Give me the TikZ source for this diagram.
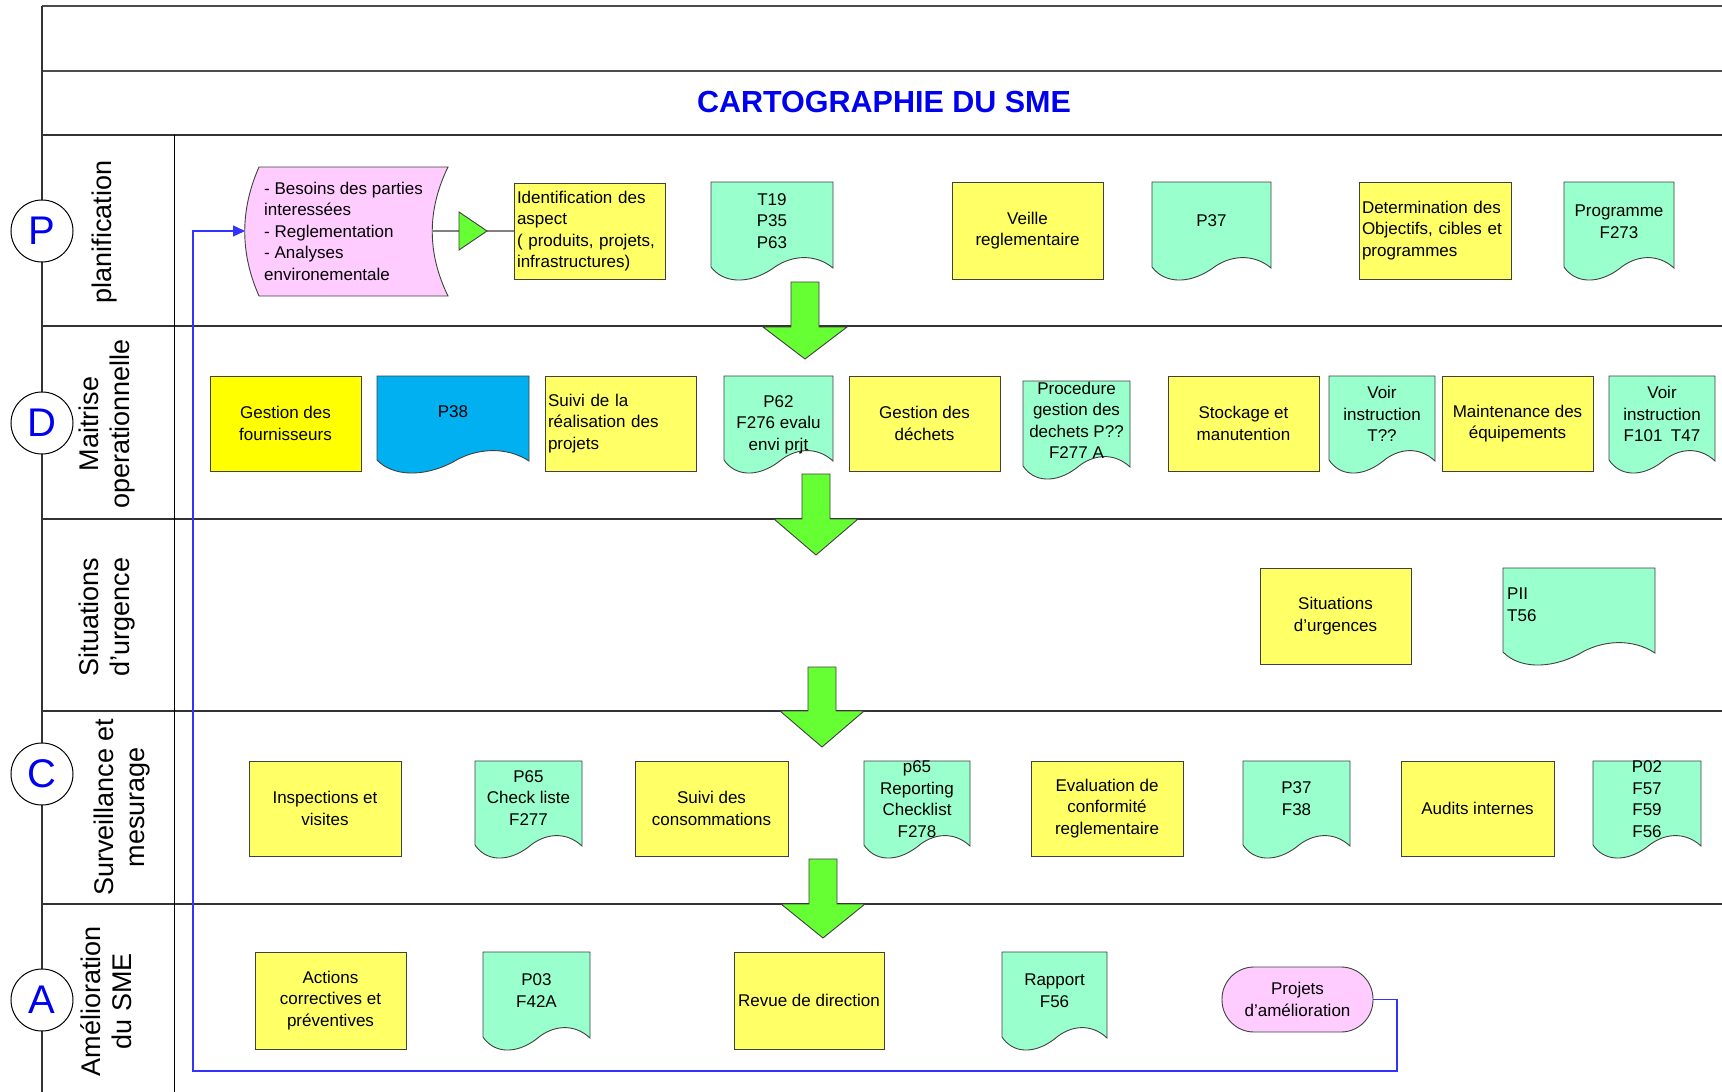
\documentclass[tikz,border=0pt]{standalone}
\usepackage{fontspec}
\setmainfont{Liberation Sans}
\usetikzlibrary{arrows.meta}

\definecolor{yel}{HTML}{FFFF66}
\definecolor{pureyel}{HTML}{FFFF00}
\definecolor{mint}{HTML}{99FFCC}
\definecolor{docblue}{HTML}{00B0F0}
\definecolor{pinkfill}{HTML}{FFCCFF}
\definecolor{arrowgreen}{HTML}{66FF33}
\definecolor{titleblue}{HTML}{0000F0}
\definecolor{linkblue}{HTML}{3333FF}
\definecolor{framegray}{HTML}{333333}

\newcommand\boxfont{\fontsize{17}{21.5}\selectfont}
\newcommand\lanefont{\fontsize{27}{30.5}\selectfont}
\newcommand\circfont{\fontsize{40}{40}\selectfont}
\newcommand\titlefont{\fontsize{30.5}{32}\selectfont\bfseries}

% document symbol: flat top, wavy bottom (x1,y1,x2,y2,fill)
\newcommand\docshape[5]{%
  \filldraw[boxline, fill=#5] (#1,#2) -- (#3,#2) -- (#3,{#4-11})
    .. controls ({#1+0.85*(#3-#1)},{#4-26}) and ({#1+0.65*(#3-#1)},{#4-24}) .. ({#1+0.5*(#3-#1)},{#4-10})
    .. controls ({#1+0.3*(#3-#1)},{#4+6}) and ({#1+0.1*(#3-#1)},{#4+4}) .. (#1,{#4-12}) -- cycle;}
% document symbol with centred text (name,x1,y1,x2,y2,fill,text y,text)
\newcommand\docnode[8]{%
  \docshape{#2}{#3}{#4}{#5}{#6}
  \node[doctext] (#1) at ({(#2+#4)/2},#7) {#8};}
% block arrow pointing down (centre x, top, head base, tip)
\newcommand\lanearrow[4]{%
  \filldraw[flowarrow] ({#1-14},#2) -- ({#1+14},#2) -- ({#1+14},#3) -- ({#1+42},#3)
    -- (#1,#4) -- ({#1-42},#3) -- ({#1-14},#3) -- cycle;}

\begin{document}
\begin{tikzpicture}[x=1pt,y=-1pt,
  frameline/.style={draw=framegray, line width=1.8pt},
  thinline/.style={draw=black, line width=1pt},
  boxline/.style={draw=black!75, line width=0.9pt},
  proc/.style={rectangle, boxline, inner sep=0pt, font=\boxfont, align=center},
  procleft/.style={proc, align=left, inner xsep=3pt},
  doctext/.style={inner sep=0pt, font=\boxfont, align=center},
  lanelabel/.style={rotate=90, font=\lanefont, align=center, inner sep=0pt},
  stepcircle/.style={circle, draw=black, line width=1pt, fill=white,
    minimum size=62pt, inner sep=0pt, font=\circfont, text=titleblue},
  flowarrow/.style={fill=arrowgreen, draw=black!75, line width=0.9pt},
  grayline/.style={draw=gray, line width=1.5pt},
  fbline/.style={draw=linkblue, line width=1.2pt, -{Triangle[length=12pt,width=11pt]}}]

\useasboundingbox (0,0) rectangle (1722,1092);
\fill[white] (0,0) rectangle (1722,1092);

% ---------- frame and swimlanes ----------
\draw[frameline, draw=black!70] (42,6) -- (1722,6);
\draw[frameline, draw=black!70] (42,71) -- (1722,71);
\foreach \yy in {135,326,519,711,904}
  \draw[frameline] (42,\yy) -- (1722,\yy);
\draw[frameline] (42,6) -- (42,1092);
\draw[thinline] (174,135) -- (174,1092);

\node[font=\titlefont, text=titleblue] (title) at (884,102) {CARTOGRAPHIE DU SME};

% lane titles
\node[lanelabel] (lanePlan) at (105,232) {planification};
\node[lanelabel] (laneDo) at (107,424) {Maitrise\\operationnelle};
\node[lanelabel] (laneUrg) at (107,617) {Situations\\d’urgence};
\node[lanelabel] (laneCheck) at (122,807) {Surveillance et\\mesurage};
\node[lanelabel] (laneAct) at (106,1001) {Amélioration\\du SME};

% PDCA markers
\node[stepcircle] (cP) at (42,231) {P};
\node[stepcircle] (cD) at (42,423) {D};
\node[stepcircle] (cC) at (42,774) {C};
\node[stepcircle] (cA) at (42,1000) {A};

% ---------- planification ----------
\filldraw[boxline, fill=pinkfill] (259,167) -- (448,167)
  .. controls (427,210) and (427,253) .. (448,296) -- (259,296)
  .. controls (240,253) and (240,210) .. (259,167) -- cycle;
\coordinate (besoinsL) at (245,231);
\coordinate (besoinsR) at (432,231);
\node[doctext, align=left, anchor=west] (besoins) at (264,231)
  {- Besoins des parties\\interessées\\- Reglementation\\- Analyses\\environementale};

\coordinate (triL) at (459,231);
\coordinate (triR) at (487,231);
\node[proc, fill=yel, procleft, minimum height=96pt, text width=145pt] (ident) at (589.5,231)
  {Identification des\\aspect\\( produits, projets,\\infrastructures)};
\draw[grayline] (besoinsR) -- (triL);
\draw[grayline] (triR) -- (ident.west);
\filldraw[boxline, fill=arrowgreen] (459,212) -- (triR) -- (459,250) -- cycle;

\docnode{t19}{711}{182}{833}{279}{mint}{221}{T19\\P35\\P63}
\node[proc, fill=yel, minimum width=151pt, minimum height=97pt] (veille) at (1027.5,230.5) {Veille\\reglementaire};
\docnode{p37a}{1152}{182}{1271}{279}{mint}{221}{P37}
\node[procleft, fill=yel, minimum height=97pt, text width=146pt] (determ) at (1435,230.5)
  {Determination des\\Objectifs, cibles et\\programmes};
\docnode{prog}{1564}{182}{1674}{279}{mint}{221.5}{Programme\\F273}

% ---------- maitrise operationnelle ----------
\node[proc, fill=pureyel, minimum width=151pt, minimum height=95pt] (gestf) at (285.5,423.5) {Gestion des\\fournisseurs};
\docnode{p38}{377}{376}{529}{472}{docblue}{412}{P38}
\node[procleft, fill=yel, minimum height=95pt, text width=145pt] (suivi) at (620.5,423.5)
  {Suivi de la\\réalisation des\\projets};
\docnode{p62}{724}{376}{833}{472}{mint}{424.5}{P62\\F276 evalu\\envi prjt}
\node[proc, fill=yel, minimum width=151pt, minimum height=95pt] (gestd) at (924.5,423.5) {Gestion des\\déchets};
\docnode{procd}{1023}{381}{1130}{478}{mint}{420.5}{Procedure\\gestion des\\dechets P??\\F277 A}
\node[proc, fill=yel, minimum width=151pt, minimum height=95pt] (stock) at (1243.5,423.5) {Stockage et\\manutention};
\docnode{voir1}{1329}{376}{1435}{472}{mint}{414}{Voir\\instruction\\T??}
\node[proc, fill=yel, minimum width=151pt, minimum height=95pt] (maint) at (1517.5,423.5) {Maintenance des\\équipements};
\docnode{voir2}{1609}{376}{1715}{472}{mint}{414}{Voir\\instruction\\F101\enspace T47}

% ---------- situations d'urgence ----------
\node[proc, fill=yel, minimum width=151pt, minimum height=96pt] (situ) at (1335.5,616) {Situations\\d’urgences};
\docshape{1503}{568}{1655}{664}{mint}
\node[doctext, align=left, anchor=west] (pii) at (1507,604.5) {PII\\T56};

% ---------- surveillance et mesurage ----------
\node[proc, fill=yel, minimum width=152pt, minimum height=95pt] (insp) at (325,808.5) {Inspections et\\visites};
\docnode{p65}{475}{761}{582}{857}{mint}{798}{P65\\Check liste\\F277}
\node[proc, fill=yel, minimum width=153pt, minimum height=95pt] (suivic) at (711.5,808.5) {Suivi des\\consommations};
\docnode{rep}{864}{761}{970}{857}{mint}{799}{p65\\Reporting\\Checklist\\F278}
\node[proc, fill=yel, minimum width=152pt, minimum height=95pt] (eval) at (1107,808.5) {Evaluation de\\conformité\\reglementaire};
\docnode{p37b}{1243}{761}{1350}{857}{mint}{798.5}{P37\\F38}
\node[proc, fill=yel, minimum width=153pt, minimum height=95pt] (audit) at (1477.5,808.5) {Audits internes};
\docnode{p02}{1593}{761}{1701}{857}{mint}{799}{P02\\F57\\F59\\F56}

% ---------- amelioration ----------
\node[proc, fill=yel, minimum width=151pt, minimum height=97pt] (actions) at (330.5,1000.5) {Actions\\correctives et\\préventives};
\docnode{p03}{483}{952}{590}{1049}{mint}{990.5}{P03\\F42A}
\node[proc, fill=yel, minimum width=150pt, minimum height=97pt] (revue) at (809,1000.5) {Revue de direction};
\docnode{rap}{1002}{952}{1107}{1049}{mint}{990.5}{Rapport\\F56}
\node[proc, fill=pinkfill, minimum width=151pt, minimum height=65pt, rounded corners=32pt] (projets) at (1297.5,999.5)
  {Projets\\d’amélioration};

% improvement loop back to the planning inputs
\coordinate (fbA) at (1397,1071);
\coordinate (fbB) at (193,1071);
\draw[fbline] (projets.east) -| (fbA) -- (fbB) |- (besoinsL);

% ---------- flow between lanes ----------
\lanearrow{805}{282}{327}{359}
\lanearrow{816}{474}{519}{555}
\lanearrow{822}{667}{711}{747}
\lanearrow{823}{859}{904}{938}

\end{tikzpicture}
\end{document}
